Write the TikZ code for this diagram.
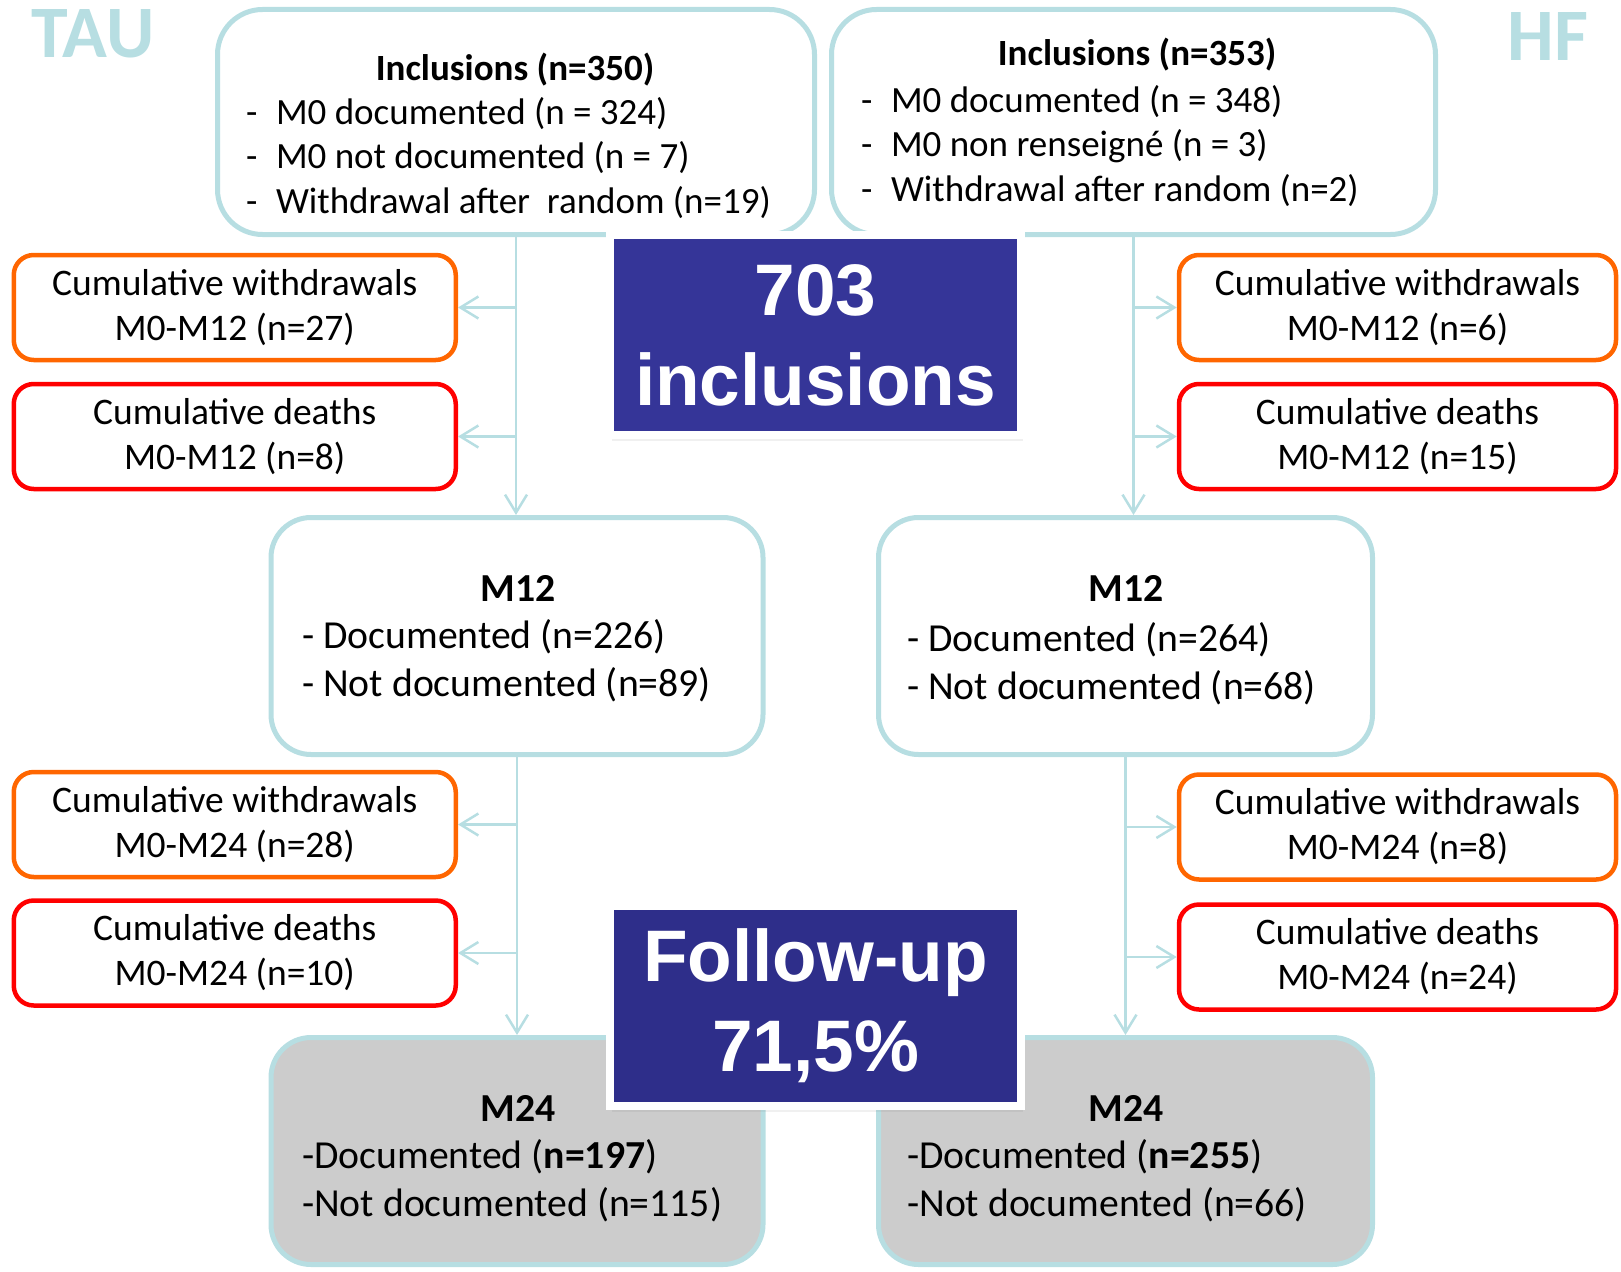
\documentclass[tikz,border=0pt]{standalone}
\usepackage{fontspec}
\setmainfont{Carlito}
\newfontfamily\arialfont{Liberation Sans}
\usetikzlibrary{arrows.meta,shadows}

\definecolor{lblue}{RGB}{183,222,226}
\definecolor{worange}{RGB}{255,102,0}
\definecolor{dred}{RGB}{255,0,0}
\definecolor{navyA}{RGB}{53,53,152}
\definecolor{navyB}{RGB}{46,46,138}
\definecolor{lgray}{RGB}{204,204,204}

\newcommand{\topfs}{\fontsize{37}{44.5}\selectfont}
\newcommand{\midfs}{\fontsize{39.7}{48}\selectfont}
\newcommand{\sidefs}{\fontsize{37.5}{45}\selectfont}

\tikzset{
  grp/.style={text=lblue, font=\bfseries\fontsize{74}{74}\selectfont},
  mainbox/.style={draw=lblue, line width=5pt, rounded corners=45pt, fill=white},
  sidebox/.style={line width=4.5pt, rounded corners=20pt, fill=white, align=center,
    minimum height=105pt, inner sep=0pt, font=\sidefs},
  wdbox/.style={sidebox, draw=worange},
  dtbox/.style={sidebox, draw=dred},
  lst/.style={anchor=west, align=left, inner sep=0pt},
  bigbox/.style={draw=white, line width=8pt, text=white, align=center, inner sep=0pt,
    minimum width=411pt, minimum height=200pt,
    font=\arialfont\bfseries\fontsize{73}{90}\selectfont,
    drop shadow={shadow xshift=2pt, shadow yshift=-6pt, opacity=0.12}},
  flow/.style={draw=lblue, line width=2.5pt, -{Straight Barb[length=18pt, width=22pt]}}
}

\begin{document}
\begin{tikzpicture}[x=1pt, y=-1pt]
    \useasboundingbox (0,0) rectangle (1621,1271);

    % Arm labels
    \node[grp] (tau) at (93,34) {TAU};
    \node[grp] (hf) at (1548,37) {HF};

    % Inclusion boxes
    \node[mainbox, minimum width=597pt, minimum height=225pt] (incl1) at (516,122) {};
    \node[mainbox, minimum width=604pt, minimum height=225pt] (incl2) at (1133.5,122) {};
    \node[font=\topfs\bfseries] (incl1-t) at (515,70) {Inclusions (n=350)};
    \node[lst, font=\topfs] (incl1-l) at (246,158)
      {-\enspace M0 documented (n = 324)\\ -\enspace M0 not documented (n = 7)\\ -\enspace Withdrawal after~ random (n=19)};
    \node[font=\topfs\bfseries] (incl2-t) at (1137,55) {Inclusions (n=353)};
    \node[lst, font=\topfs] (incl2-l) at (861,146)
      {-\enspace M0 documented (n = 348)\\ -\enspace M0 non renseigné (n = 3)\\ -\enspace Withdrawal after random (n=2)};

    % M12 boxes
    \node[mainbox, rounded corners=40pt, minimum width=492pt, minimum height=237pt] (m12a) at (517,636) {};
    \node[mainbox, rounded corners=40pt, minimum width=494pt, minimum height=237pt] (m12b) at (1125.5,636) {};
    \node[font=\midfs\bfseries] (m12a-t) at (518,588) {M12};
    \node[lst, font=\midfs] (m12a-l) at (302,661) {- Documented (n=226)\\ - Not documented (n=89)};
    \node[font=\midfs\bfseries] (m12b-t) at (1126,588) {M12};
    \node[lst, font=\midfs] (m12b-l) at (907,664) {- Documented (n=264)\\ - Not documented (n=68)};

    % M24 boxes
    \node[mainbox, fill=lgray, rounded corners=40pt, minimum width=492pt, minimum height=227pt] (m24a) at (517,1151) {};
    \node[mainbox, fill=lgray, rounded corners=40pt, minimum width=494pt, minimum height=227pt] (m24b) at (1125.5,1151) {};
    \node[font=\midfs\bfseries] (m24a-t) at (518,1108) {M24};
    \node[lst, font=\midfs] (m24a-l) at (302,1181) {-Documented (\textbf{n=197})\\ -Not documented (n=115)};
    \node[font=\midfs\bfseries] (m24b-t) at (1126,1108) {M24};
    \node[lst, font=\midfs] (m24b-l) at (907,1181) {-Documented (\textbf{n=255})\\ -Not documented (n=66)};

    % Withdrawals and deaths
    \node[wdbox, minimum width=442pt] (wd1a) at (234.75,307.5) {Cumulative withdrawals\\ M0-M12 (n=27)};
    \node[dtbox, minimum width=442pt] (dt1a) at (234.75,436.5) {Cumulative deaths\\ M0-M12 (n=8)};
    \node[wdbox, minimum width=442pt] (wd2a) at (234.75,824.5) {Cumulative withdrawals\\ M0-M24 (n=28)};
    \node[dtbox, minimum width=442pt] (dt2a) at (234.75,953) {Cumulative deaths\\ M0-M24 (n=10)};
    \node[wdbox, minimum width=437pt] (wd1b) at (1397.5,307.5) {Cumulative withdrawals\\ M0-M12 (n=6)};
    \node[dtbox, minimum width=437pt] (dt1b) at (1397.5,436.5) {Cumulative deaths\\ M0-M12 (n=15)};
    \node[wdbox, minimum width=437pt] (wd2b) at (1397.5,827) {Cumulative withdrawals\\ M0-M24 (n=8)};
    \node[dtbox, minimum width=437pt] (dt2b) at (1397.5,957) {Cumulative deaths\\ M0-M24 (n=24)};

    % Flow
    \draw[flow] (incl1.south) -- (incl1.south |- m12a.north);
    \draw[flow] (incl2.south) -- (incl2.south |- m12b.north);
    \draw[flow] (m12a.south) -- (m24a.north);
    \draw[flow] (m12b.south) -- (m24b.north);
    \foreach \b in {wd1a,dt1a}
      \draw[flow] (incl1.south |- \b.east) -- (\b.east);
    \foreach \b in {wd2a,dt2a}
      \draw[flow] (m12a.south |- \b.east) -- (\b.east);
    \foreach \b in {wd1b,dt1b}
      \draw[flow] (incl2.south |- \b.west) -- (\b.west);
    \foreach \b in {wd2b,dt2b}
      \draw[flow] (m12b.south |- \b.west) -- (\b.west);

    % Totals
    \node[bigbox, fill=navyA] (total) at (815.5,335) {703\\inclusions};
    \node[bigbox, fill=navyB] (follow) at (815.5,1006) {Follow-up\\71,5\%};
\end{tikzpicture}
\end{document}
